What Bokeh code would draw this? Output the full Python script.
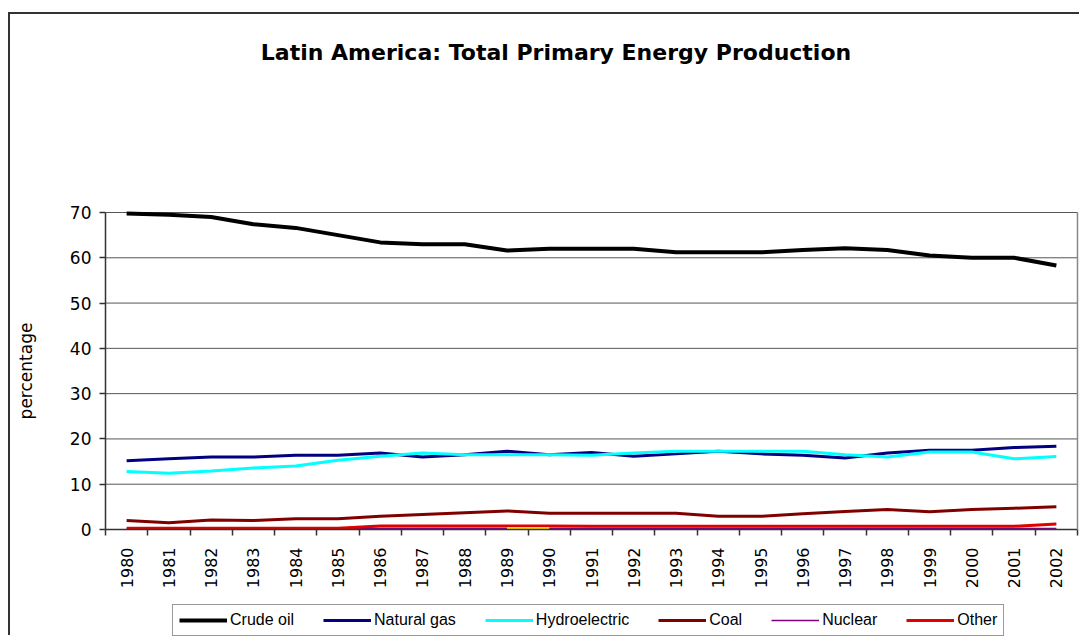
import math
from bokeh.plotting import figure
from bokeh.models import (ColumnDataSource, FixedTicker, Legend, LegendItem,
                          Label, Range1d, LinearAxis)
from bokeh.embed import file_html
from bokeh.resources import INLINE

# ---------------- data ----------------
years = [1980, 1981, 1982, 1983, 1984, 1985, 1986, 1987, 1988, 1989, 1990, 1991,
         1992, 1993, 1994, 1995, 1996, 1997, 1998, 1999, 2000, 2001, 2002]
crude_oil = [69.8, 69.5, 69.0, 67.4, 66.6, 65.0, 63.4, 63.0, 63.0, 61.6, 62.0, 62.0,
             62.0, 61.2, 61.2, 61.2, 61.7, 62.1, 61.7, 60.5, 60.0, 60.0, 58.3]
natural_gas = [15.2, 15.6, 16.0, 16.0, 16.4, 16.4, 16.9, 16.0, 16.5, 17.3, 16.5, 17.0,
               16.2, 16.7, 17.3, 16.7, 16.4, 15.8, 16.9, 17.5, 17.5, 18.1, 18.4]
hydroelectric = [12.8, 12.4, 12.9, 13.6, 14.0, 15.3, 16.2, 16.9, 16.5, 16.5, 16.5, 16.4,
                 16.9, 17.3, 17.3, 17.3, 17.3, 16.5, 16.0, 17.1, 17.1, 15.6, 16.1]
coal = [2.0, 1.5, 2.1, 2.0, 2.4, 2.4, 2.9, 3.3, 3.7, 4.1, 3.6, 3.6,
        3.6, 3.6, 2.9, 2.9, 3.5, 4.0, 4.4, 3.9, 4.4, 4.7, 5.0]
nuclear = [0.1, 0.1, 0.1, 0.1, 0.2, 0.2, 0.2, 0.2, 0.2, 0.2, 0.2, 0.2,
           0.2, 0.2, 0.2, 0.2, 0.2, 0.2, 0.2, 0.2, 0.2, 0.2, 0.2]
other = [0.3, 0.3, 0.3, 0.3, 0.3, 0.3, 0.8, 0.8, 0.8, 0.8, 0.8, 0.7,
         0.7, 0.7, 0.7, 0.7, 0.7, 0.7, 0.7, 0.7, 0.7, 0.7, 1.2]
nan = float("nan")
unlabeled = [nan, nan, nan, nan, nan, nan, nan, nan, nan, 0.2, 0.2, nan,
             nan, nan, nan, nan, nan, nan, nan, nan, nan, nan, nan]
y_ticks = [0, 10, 20, 30, 40, 50, 60, 70]
title_text = "Latin America: Total Primary Energy Production"
y_label = "percentage"

series = [
    ("Crude oil", "#000000", 4),
    ("Natural gas", "#000080", 3),
    ("Hydroelectric", "#00FFFF", 3),
    ("Coal", "#800000", 3),
    ("Nuclear", "#800080", 1.5),
    ("Other", "#E00000", 3),
]

# ---------------- layout (pixels inside the canvas) ----------------
W, H = 1071, 623
PA_LEFT, PA_RIGHT, PA_TOP, PA_BOTTOM = 95, 1067, 198, 515

x_lo, x_hi = years[0] - 0.5, years[-1] + 0.5
y_lo, y_hi = y_ticks[0], y_ticks[-1]
xs = (x_hi - x_lo) / (PA_RIGHT - PA_LEFT)
ys = (y_hi - y_lo) / (PA_BOTTOM - PA_TOP)
x_range = Range1d(x_lo - PA_LEFT * xs, x_hi + (W - PA_RIGHT) * xs)
y_range = Range1d(y_lo - (H - PA_BOTTOM) * ys, y_hi + PA_TOP * ys)

src = ColumnDataSource(dict(year=years, crude=crude_oil, gas=natural_gas,
                            hydro=hydroelectric, coal=coal, nuclear=nuclear,
                            other=other, extra=unlabeled))
cols = ["crude", "gas", "hydro", "coal", "nuclear", "other"]

p = figure(width=W, height=H, x_range=x_range, y_range=y_range,
           output_backend="svg", toolbar_location=None, title=None,
           x_axis_location=None, y_axis_location=None,
           min_border=0, min_border_left=0, min_border_right=0,
           min_border_top=0, min_border_bottom=0)
p.styles = {"border-top": "2px solid #333333", "border-left": "2px solid #333333",
            "margin-top": "12px", "margin-left": "8px"}
p.background_fill_color = "white"
p.border_fill_color = "white"
p.outline_line_color = None
p.grid.visible = False

# horizontal grid lines, only across the plot area
grid_src = ColumnDataSource(dict(y=y_ticks[1:], x0=[x_lo] * (len(y_ticks) - 1),
                                 x1=[x_hi] * (len(y_ticks) - 1)))
p.segment(x0="x0", x1="x1", y0="y", y1="y", source=grid_src,
          line_color="#555555", line_width=1)

items = []
for (name, color, w), c in zip(series, cols):
    r = p.line("year", c, source=src, line_color=color, line_width=w)
    items.append(LegendItem(label=name, renderers=[r]))
p.line("year", "extra", source=src, line_color="#FFE000", line_width=3)

# x axis: labels at years, tick marks between categories
xa = LinearAxis(fixed_location=y_lo, bounds=(x_lo, x_hi))
xa.ticker = FixedTicker(ticks=years,
                        minor_ticks=[y - 0.5 for y in years] + [x_hi])
xa.major_tick_out = 0
xa.major_tick_in = 0
xa.minor_tick_out = 6
xa.minor_tick_in = 0
xa.minor_tick_line_color = "#333333"
xa.minor_tick_line_width = 1.5
xa.major_label_orientation = math.pi / 2
xa.major_label_standoff = 12
xa.major_label_text_font = "DejaVu Sans"
xa.major_label_text_font_size = "16px"
xa.major_label_text_color = "#000000"
xa.axis_line_color = "#333333"
xa.axis_line_width = 1.5
p.add_layout(xa, "below")

ya = LinearAxis(fixed_location=x_lo, bounds=(y_lo, y_hi))
ya.ticker = FixedTicker(ticks=y_ticks, minor_ticks=[])
ya.major_tick_out = 6
ya.major_tick_in = 0
ya.major_tick_line_color = "#333333"
ya.major_tick_line_width = 1.5
ya.major_label_standoff = 8
ya.major_label_text_font = "DejaVu Sans"
ya.major_label_text_font_size = "17px"
ya.major_label_text_color = "#000000"
ya.axis_line_color = "#333333"
ya.axis_line_width = 1.5
ya.axis_label = y_label
ya.axis_label_text_font = "DejaVu Sans"
ya.axis_label_text_font_size = "17px"
ya.axis_label_text_font_style = "normal"
ya.axis_label_text_color = "#000000"
ya.axis_label_standoff = 31
p.add_layout(ya, "left")

# grey right edge of the plot area
ra = LinearAxis(fixed_location=x_hi, bounds=(y_lo, y_hi),
                ticker=FixedTicker(ticks=[], minor_ticks=[]),
                axis_line_color="#888888", axis_line_width=1.5,
                major_tick_line_color=None, minor_tick_line_color=None)
p.add_layout(ra, "right")

p.add_layout(Label(x=(W / 2) + 10, y=H - 38, x_units="screen", y_units="screen",
                   text=title_text, text_align="center", text_baseline="middle",
                   text_font="DejaVu Sans", text_font_size="22px",
                   text_font_style="bold", text_color="#000000"))

legend = Legend(items=items, orientation="horizontal", location=(162, 1),
                border_line_color="#333333", border_line_width=1,
                background_fill_color="white", background_fill_alpha=1,
                padding=6, spacing=29, margin=0,
                glyph_width=48, glyph_height=16, label_standoff=3,
                label_text_font="Liberation Sans", label_text_font_size="16px",
                label_text_color="#000000")
p.add_layout(legend, "center")

open("out.html", "w").write(file_html(p, INLINE))
